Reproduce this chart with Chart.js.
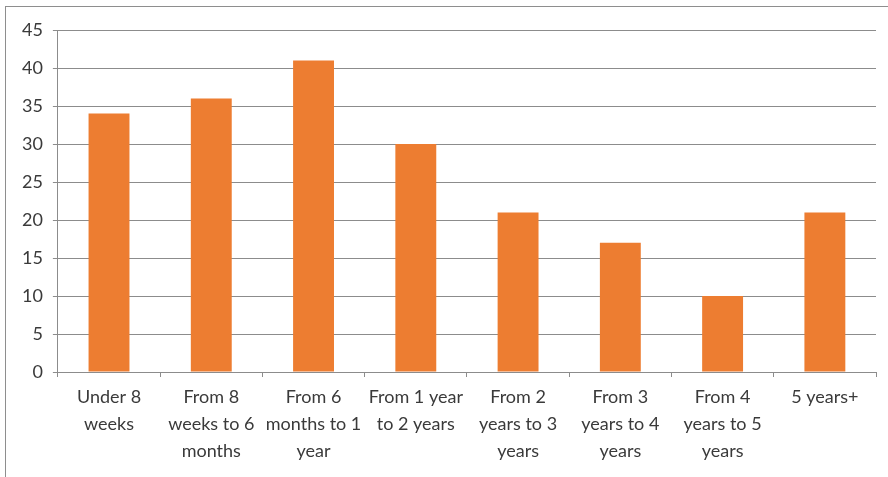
<!DOCTYPE html>
<html>
<head>
<meta charset="utf-8">
<script src="https://cdn.jsdelivr.net/npm/chart.js@4/dist/chart.umd.min.js"></script>
<style>
html,body{margin:0;padding:0;background:#fff;}
#wrap{position:relative;width:888px;height:477px;}
#frame{position:absolute;left:5px;top:6px;width:900px;height:500px;border:1px solid #8e8e8e;box-sizing:border-box;}
canvas{position:absolute;left:0;top:0;}
</style>
</head>
<body>
<div id="wrap"><div id="frame"></div><canvas id="c" width="888" height="477"></canvas></div>
<script>
const categories = [
  ["Under 8","weeks"],
  ["From 8","weeks to 6","months"],
  ["From 6","months to 1","year"],
  ["From 1 year","to 2 years"],
  ["From 2","years to 3","years"],
  ["From 3","years to 4","years"],
  ["From 4","years to 5","years"],
  ["5 years+"]
];
const values = [34, 36, 41, 30, 21, 17, 10, 21];
const yTicks = [0, 5, 10, 15, 20, 25, 30, 35, 40, 45];

const textColor = '#3a3a3a';
const gridColor = '#8c8c8c';
const fontFamily = 'Lato, "Open Sans", sans-serif';

new Chart(document.getElementById('c'), {
  type: 'bar',
  data: {
    labels: categories,
    datasets: [{
      data: values,
      backgroundColor: '#ED7D31',
      borderWidth: 0,
      categoryPercentage: 1.0,
      barPercentage: 0.4
    }]
  },
  options: {
    responsive: false,
    animation: false,
    layout: { padding: { left: 12, right: 12, top: 30, bottom: 5 } },
    plugins: { legend: { display: false }, tooltip: { enabled: false } },
    scales: {
      x: {
        grid: { display: true, drawOnChartArea: false, color: gridColor, tickLength: 5, offset: true },
        border: { display: true, color: gridColor, width: 1 },
        ticks: { color: textColor, font: { family: fontFamily, size: 18, lineHeight: 1.5 }, maxRotation: 0, autoSkip: false, padding: 7 }
      },
      y: {
        min: 0, max: 45,
        afterBuildTicks: (axis) => { axis.ticks = yTicks.map(v => ({ value: v })); },
        grid: { color: gridColor, tickLength: 5 },
        border: { display: true, color: gridColor, width: 1 },
        ticks: { color: textColor, font: { family: fontFamily, size: 18 }, padding: 10 }
      }
    }
  }
});
</script>
</body>
</html>
